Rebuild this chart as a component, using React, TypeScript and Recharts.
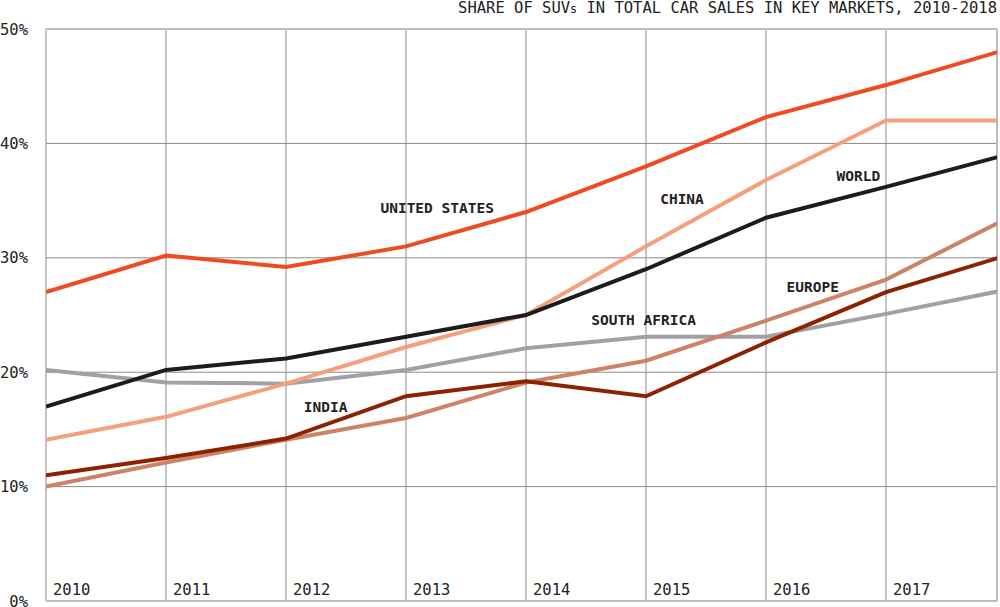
import { CartesianGrid, Line, LineChart, ReferenceDot, ReferenceLine, XAxis, YAxis } from "recharts";

const years = [2010, 2011, 2012, 2013, 2014, 2015, 2016, 2017, 2018];
const unitedStates = [27.0, 30.2, 29.2, 31.0, 34.0, 38.0, 42.3, 45.1, 48.2];
const china = [14.1, 16.1, 19.0, 22.2, 25.0, 31.0, 36.8, 42.0, 42.0];
const world = [17.0, 20.2, 21.2, 23.1, 25.0, 29.0, 33.5, 36.2, 39.0];
const europe = [10.0, 12.1, 14.1, 16.0, 19.1, 21.0, 24.5, 28.1, 33.4];
const india = [11.0, 12.5, 14.2, 17.9, 19.2, 17.9, 22.6, 27.0, 30.2];
const southAfrica = [20.2, 19.1, 19.0, 20.2, 22.1, 23.1, 23.1, 25.1, 27.2];

const yearTicks = [2010, 2011, 2012, 2013, 2014, 2015, 2016, 2017];
const pctTicks = [0, 10, 20, 30, 40, 50];

const seriesLabels = [
    { text: "UNITED STATES", year: 2013.26, pct: 34.35 },
    { text: "CHINA", year: 2015.3, pct: 35.14 },
    { text: "WORLD", year: 2016.77, pct: 37.15 },
    { text: "EUROPE", year: 2016.39, pct: 27.45 },
    { text: "SOUTH AFRICA", year: 2014.98, pct: 24.56 },
    { text: "INDIA", year: 2012.33, pct: 16.96 },
];

const data = years.map((year, i) => ({
    year,
    us: unitedStates[i],
    china: china[i],
    world: world[i],
    europe: europe[i],
    india: india[i],
    sa: southAfrica[i],
}));

const MONO = "'DejaVu Sans Mono', 'Liberation Mono', monospace";

const YearTick = ({ x, y, payload }: any) => (
    <text x={x + 7} y={y - 11} fontFamily={MONO} fontSize={15.5} fill="#222" dominantBaseline="central">
        {payload.value}
    </text>
);

export default function App() {
    return (
        <div style={{ position: "absolute", left: 0, top: 0, width: 1000, height: 607, background: "#fff" }}>
            <div
                style={{
                    position: "absolute",
                    right: 3,
                    top: 0,
                    fontFamily: MONO,
                    fontSize: 15.5,
                    lineHeight: "16px",
                    color: "#222",
                    whiteSpace: "nowrap",
                }}
            >
                SHARE OF SUV<span style={{ fontSize: "0.75em" }}>s</span> IN TOTAL CAR SALES IN KEY MARKETS, 2010-2018
            </div>
            <LineChart width={1000} height={607} data={data} margin={{ top: 29, right: 3, left: 0, bottom: 0 }}>
                <CartesianGrid stroke="#8a8a8a" strokeWidth={1} />
                <XAxis
                    type="number"
                    dataKey="year"
                    domain={[2010, 2017.925]}
                    allowDataOverflow
                    ticks={yearTicks}
                    interval={0}
                    height={6}
                    axisLine={false}
                    tickLine={false}
                    tickSize={0}
                    tickMargin={0}
                    tick={<YearTick />}
                />
                <YAxis
                    type="number"
                    domain={[0, 50]}
                    ticks={pctTicks}
                    interval={0}
                    width={46}
                    axisLine={false}
                    tickLine={false}
                    tickSize={0}
                    tickMargin={18}
                    tickFormatter={(v) => `${v}%`}
                    tick={{ fontFamily: MONO, fontSize: 15.5, fill: "#222" }}
                />
                <ReferenceLine y={0} stroke="#bdbdbd" strokeWidth={2} />
                <ReferenceLine y={50} stroke="#bdbdbd" strokeWidth={2} />
                <ReferenceLine x={2017.925} stroke="#bdbdbd" strokeWidth={2} />
                <Line dataKey="sa" stroke="#a0a0a6" strokeWidth={4} dot={false} isAnimationActive={false} />
                <Line dataKey="europe" stroke="#cc8466" strokeWidth={4} dot={false} isAnimationActive={false} />
                <Line dataKey="india" stroke="#8c2200" strokeWidth={4} dot={false} isAnimationActive={false} />
                <Line dataKey="china" stroke="#f5a07c" strokeWidth={4} dot={false} isAnimationActive={false} />
                <Line dataKey="world" stroke="#1c1c1c" strokeWidth={4} dot={false} isAnimationActive={false} />
                <Line dataKey="us" stroke="#f04a22" strokeWidth={4} dot={false} isAnimationActive={false} />
                {seriesLabels.map((l) => (
                    <ReferenceDot
                        key={l.text}
                        x={l.year}
                        y={l.pct}
                        r={0}
                        fill="none"
                        stroke="none"
                        label={{
                            value: l.text,
                            position: "center",
                            fill: "#222",
                            fontSize: 14.5,
                            fontWeight: 700,
                            fontFamily: MONO,
                        }}
                    />
                ))}
            </LineChart>
        </div>
    );
}
